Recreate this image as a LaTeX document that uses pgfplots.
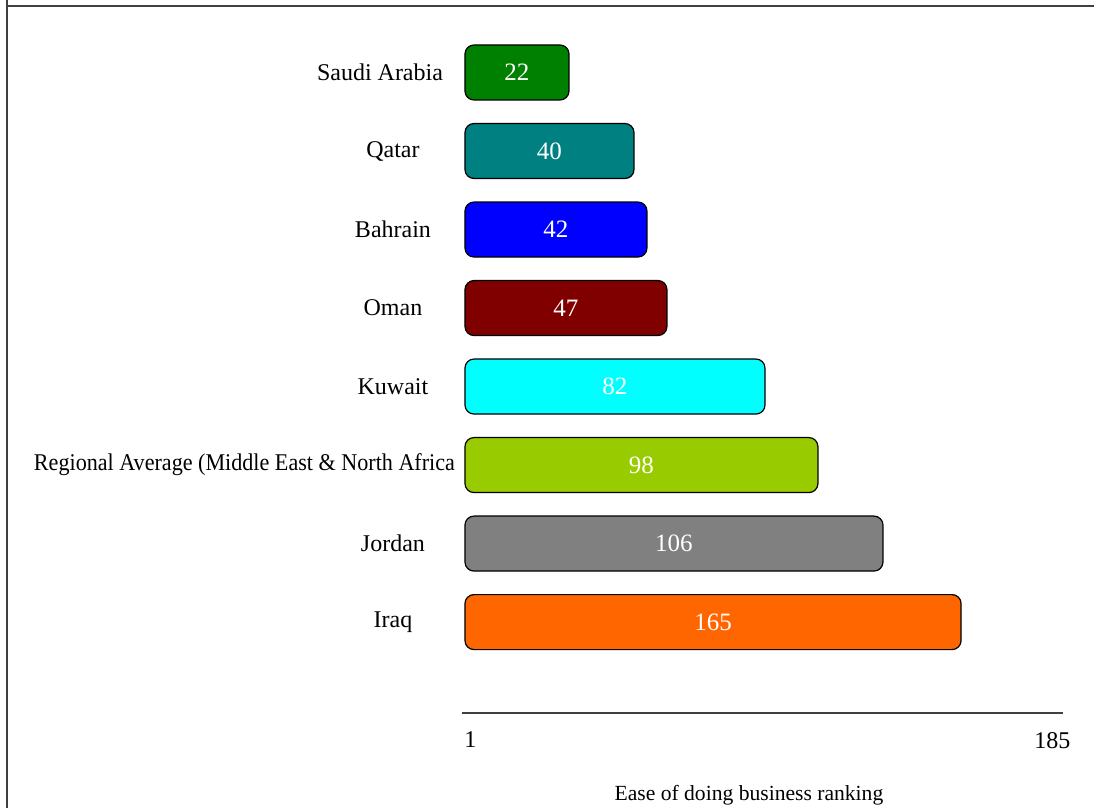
\documentclass[border=0pt]{standalone}
\usepackage{pgfplots}
\pgfplotsset{compat=1.18}
\usepackage{pgfplotstable}
\usepackage{graphicx}
\usepackage{fontspec}
\setmainfont{Liberation Serif}
\definecolor{cSaudi}{RGB}{0,128,0}
\definecolor{cQatar}{RGB}{0,128,128}
\definecolor{cBahrain}{RGB}{0,0,255}
\definecolor{cOman}{RGB}{128,0,0}
\definecolor{cKuwait}{RGB}{0,255,255}
\definecolor{cRegion}{RGB}{153,204,0}
\definecolor{cJordan}{RGB}{128,128,128}
\definecolor{cIraq}{RGB}{255,102,0}
\definecolor{frame}{RGB}{64,64,64}
% y: position (Saudi Arabia on top), len: drawn bar length, rank: printed ranking
\pgfplotstableread{
y len rank
7 32.77 22
6 53.25 40
5 57.34 42
4 63.64 47
3 94.52 82
2 111.2 98
1 131.7 106
0 156.3 165
}\data
\begin{document}
\begin{tikzpicture}
\begin{axis}[
  scale only axis, width=300.5pt, height=334pt,
  xmin=-0.945, xmax=188.41, ymin=-1.158, ymax=7.35,
  clip=false,
  axis x line*=bottom, axis y line*=left,
  x axis line style={line width=1pt, draw=frame},
  y axis line style={draw=none},
  major tick length=0pt,
  xtick={1.7,185.1}, xticklabels={1,185},
  xticklabel style={font=\fontsize{12}{14}\selectfont, yshift=-6pt},
  ytick={0,...,7},
  yticklabels={Iraq, Jordan,
    {\hbox to 0pt{\hss\resizebox{210.5pt}{\height}{Regional Average (Middle East \& North Africa}\kern-31pt}},
    Kuwait, Oman, Bahrain, Qatar, {\makebox[0pt]{Saudi Arabia\kern13pt}}},
  yticklabel style={font=\fontsize{12}{14}\selectfont, anchor=center, xshift=-34.5pt},
  /pgf/number format/assume math mode=true,
  xlabel={Ease of doing business ranking},
  xlabel style={font=\fontsize{10.8}{13}\selectfont, at={(rel axis cs:0.4775,0)}, anchor=base, yshift=-43.5pt},
  bar width=27.5pt, bar shift=0pt,
]
\pgfplotsset{every axis plot/.append style={line width=0.6pt}}
\addplot[xbar, fill=cSaudi, draw=black, rounded corners=4.5pt] coordinates {(32.77,7)};
\addplot[xbar, fill=cQatar, draw=black, rounded corners=4.5pt] coordinates {(53.25,6)};
\addplot[xbar, fill=cBahrain, draw=black, rounded corners=4.5pt] coordinates {(57.34,5)};
\addplot[xbar, fill=cOman, draw=black, rounded corners=4.5pt] coordinates {(63.64,4)};
\addplot[xbar, fill=cKuwait, draw=black, rounded corners=4.5pt] coordinates {(94.52,3)};
\addplot[xbar, fill=cRegion, draw=black, rounded corners=4.5pt] coordinates {(111.2,2)};
\addplot[xbar, fill=cJordan, draw=black, rounded corners=4.5pt] coordinates {(131.7,1)};
\addplot[xbar, fill=cIraq, draw=black, rounded corners=4.5pt] coordinates {(156.3,0)};
\addplot[draw=none, mark=none, nodes near coords, point meta=explicit symbolic,
  nodes near coords style={anchor=center, text=white, font=\fontsize{12.5}{14}\selectfont}]
  table[x expr=\thisrow{len}/2, y=y, meta=rank] {\data};
\coordinate (bl) at (rel axis cs:-0.7687,-0.1422);
\coordinate (tr) at (rel axis cs:1.0516,1.0674);
\end{axis}
\pgfresetboundingbox
\useasboundingbox (bl) rectangle (tr);
\draw[overlay, frame, line width=1.1pt] ([xshift=3.6pt]bl |- bl) -- ([xshift=3.6pt]bl |- tr) ;
\draw[overlay, frame, line width=1.1pt] ([xshift=3pt,yshift=-3.2pt]bl |- tr) -- ([yshift=-3.2pt]tr);
\end{tikzpicture}
\end{document}
